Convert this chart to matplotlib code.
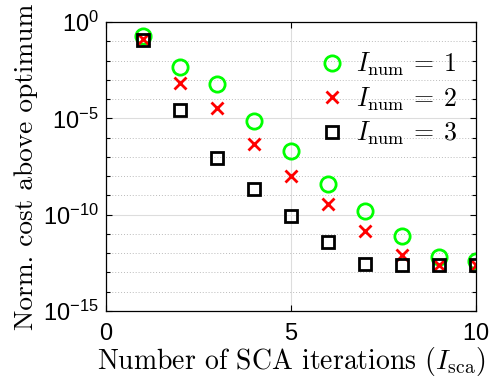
import matplotlib
matplotlib.use('Agg')
import matplotlib.pyplot as plt
import numpy as np
from matplotlib.ticker import FixedLocator, NullFormatter

plt.rcParams['mathtext.fontset'] = 'cm'
plt.rcParams['axes.formatter.use_mathtext'] = True
plt.rcParams['axes.unicode_minus'] = False

iters = np.arange(1, 11)
# log10 of the normalised cost above optimum
cost_num1 = [-0.73, -2.32, -3.23, -5.12, -6.68, -8.41, -9.81, -11.1, -12.21, -12.40]
cost_num2 = [-0.88, -3.18, -4.45, -6.35, -7.98, -9.44, -10.83, -12.07, -12.63, -12.63]
cost_num3 = [-0.93, -4.57, -7.04, -8.67, -10.07, -11.43, -12.57, -12.63, -12.63, -12.63]

fig = plt.figure(figsize=(4.9, 3.86), dpi=100)
ax = fig.add_axes([106 / 490, 1 - 311 / 386, 370 / 490, 289 / 386])

ax.plot(iters, 10.0 ** np.array(cost_num1), 'o', ls='none', mfc='none', mec=(0, 1, 0),
        mew=2, ms=11, label=r'$I_{\rm num}\:=\:1$')
ax.plot(iters, 10.0 ** np.array(cost_num2), 'x', ls='none', color='red',
        mew=2, ms=8, label=r'$I_{\rm num}\:=\:2$')
ax.plot(iters, 10.0 ** np.array(cost_num3), 's', ls='none', mfc='none', mec='black',
        mew=2, ms=8.5, label=r'$I_{\rm num}\:=\:3$')

ax.set_yscale('log')
ax.set_xlim(0, 10)
ax.set_ylim(1e-15, 1e0)
ax.set_xticks([0, 5, 10])
ax.yaxis.set_major_locator(FixedLocator([1e-15, 1e-10, 1e-5, 1e0]))
ax.yaxis.set_minor_locator(FixedLocator([10.0 ** k for k in range(-14, 0) if k % 5]))
ax.yaxis.set_minor_formatter(NullFormatter())

ax.grid(True, which='major', color='#dddddd', lw=0.8)
ax.grid(True, which='minor', axis='y', color='#bbbbbb', lw=0.7, ls=(0, (1, 2)))
ax.set_axisbelow(True)

ax.tick_params(which='both', direction='in', top=True, right=True, length=4,
               width=0.8, labelsize=17)
ax.tick_params(axis='x', pad=8.5)
ax.tick_params(axis='y', pad=5)
ax.tick_params(which='minor', length=3)
for lab in ax.get_xticklabels() + ax.get_yticklabels():
    lab.set_fontfamily('Liberation Sans')
for s in ax.spines.values():
    s.set_linewidth(0.9)

ax.set_xlabel(r'Number of SCA iterations ($I_{\rm sca}$)', fontfamily='cmr10',
              fontsize=20, labelpad=0)
ax.set_ylabel('Norm. cost above optimum', fontfamily='cmr10', fontsize=19.7, labelpad=3.5)

ax.legend(loc='upper left', bbox_to_anchor=(0.57, 0.90), frameon=False, fontsize=18.6,
          handletextpad=0.3, labelspacing=0.27, borderaxespad=0.0, borderpad=0.0,
          handlelength=1.2)

fig.savefig('out.png', dpi=100)
